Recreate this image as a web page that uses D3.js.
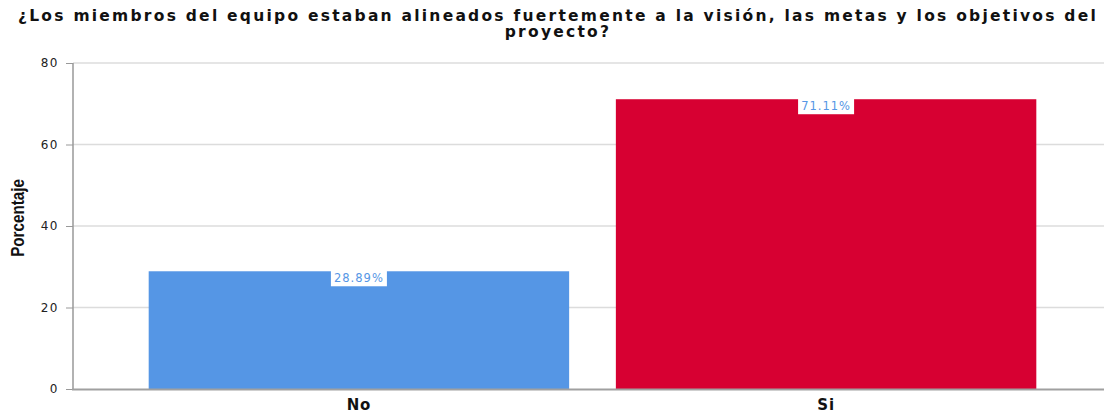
<!DOCTYPE html>
<html>
<head>
<meta charset="utf-8">
<script src="https://cdn.jsdelivr.net/npm/d3@7"></script>
<style>
  body { margin: 0; background: #fff; }
  svg { display: block; }
</style>
</head>
<body>
<script>
// donnees du graphique
const categories = ["No", "Si"];
const porcentajes = [28.89, 71.11];
const etiquetas = ["28.89%", "71.11%"];
const couleurs = ["#5596e5", "#d70032"];
const yTicks = [0, 20, 40, 60, 80];
const titre = ["¿Los miembros del equipo estaban alineados fuertemente a la visión, las metas y los objetivos del", "proyecto?"];

const W = 1104, H = 413;
const svg = d3.select("body").append("svg").attr("width", W).attr("height", H);

// echelles
const y = d3.scaleLinear().domain([0, 80]).range([389, 63]);
const x = d3.scaleBand().domain(categories).range([73, 1112]).paddingInner(0.1).paddingOuter(0.162);

// lignes de grille
svg.append("g").selectAll("line").data(yTicks.filter(d => d > 0)).join("line")
  .attr("x1", 73).attr("x2", W)
  .attr("y1", d => y(d)).attr("y2", d => y(d))
  .attr("stroke", "#dcdcdc").attr("stroke-width", 1.3);

// axe y
const axeY = svg.append("g").attr("transform", "translate(73,0)")
  .call(d3.axisLeft(y).tickValues(yTicks).tickSize(7).tickPadding(7));
axeY.select(".domain").remove();
axeY.selectAll(".tick line").attr("stroke", "#999");
axeY.selectAll(".tick text")
  .attr("font-family", "DejaVu Sans").attr("font-size", 12)
  .attr("letter-spacing", 1.5).attr("fill", "#222");

// barres
svg.append("g").selectAll("rect").data(categories).join("rect")
  .attr("x", d => x(d)).attr("width", x.bandwidth())
  .attr("y", (d, i) => y(porcentajes[i]))
  .attr("height", (d, i) => y(0) - y(porcentajes[i]))
  .attr("fill", (d, i) => couleurs[i]);

// ligne d'axe
svg.append("line").attr("x1", 73).attr("x2", 73).attr("y1", 63).attr("y2", 389.5)
  .attr("stroke", "#999").attr("stroke-width", 1.5);
svg.append("line").attr("x1", 72).attr("x2", W).attr("y1", 389.5).attr("y2", 389.5)
  .attr("stroke", "#a0a0a0").attr("stroke-width", 2);

// etiquettes de donnees
const lab = svg.append("g").selectAll("g").data(categories).join("g")
  .attr("transform", (d, i) => `translate(${x(d) + x.bandwidth() / 2},${y(porcentajes[i])})`);
lab.append("rect").attr("x", -28).attr("y", -1).attr("width", 56).attr("height", 16).attr("fill", "#fff");
lab.append("text").attr("text-anchor", "middle").attr("y", 11)
  .attr("font-family", "DejaVu Sans").attr("font-size", 11.5).attr("letter-spacing", 1)
  .attr("fill", "#5596e5")
  .text((d, i) => etiquetas[i]);

// etiquettes x
svg.append("g").selectAll("text").data(categories).join("text")
  .attr("x", d => x(d) + x.bandwidth() / 2).attr("y", 410)
  .attr("text-anchor", "middle")
  .attr("font-family", "DejaVu Sans").attr("font-weight", "bold").attr("font-size", 15)
  .attr("letter-spacing", 0.8).attr("fill", "#111")
  .text(d => d);

// titre de l'axe y (police etroite simulee)
svg.append("text")
  .attr("transform", "translate(24,218) rotate(-90) scale(0.8,1)")
  .attr("text-anchor", "middle")
  .attr("font-family", "Liberation Sans").attr("font-weight", "bold")
  .attr("font-size", 19).attr("fill", "#111")
  .text("Porcentaje");

// titre
const t = svg.append("text").attr("text-anchor", "middle")
  .attr("font-family", "DejaVu Sans").attr("font-weight", "bold").attr("font-size", 15.5)
  .attr("fill", "#111");
t.selectAll("tspan").data(titre).join("tspan")
  .attr("x", 558).attr("y", (d, i) => 21 + i * 16)
  .text(d => d);
// ajuster l'espacement pour la largeur de la premiere ligne
const l1 = t.select("tspan").node();
const w1 = l1.getComputedTextLength();
const n1 = titre[0].length;
t.attr("letter-spacing", Math.max(0, (1080 - w1) / n1));
</script>
</body>
</html>
